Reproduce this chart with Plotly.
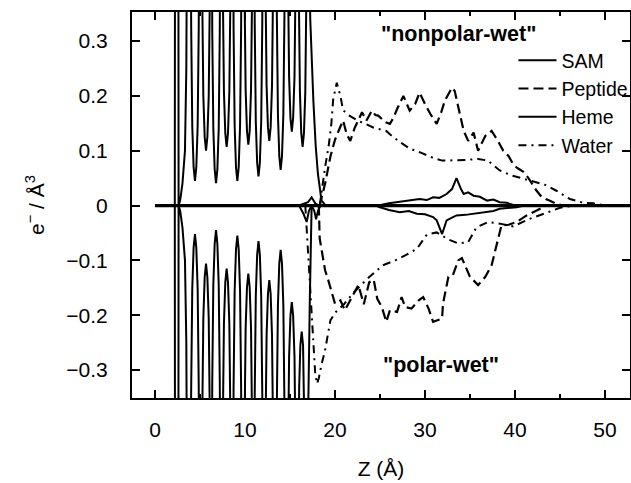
import plotly.graph_objects as go

# ---------------- data ----------------
# SAM, "nonpolar-wet" (positive branch)
sam_np_x = [0.0, 2.2, 2.26, 2.56, 2.62, 2.8, 3.05, 3.33, 3.48, 3.55, 3.75,
            4.02, 4.14, 4.29, 4.44, 4.59, 4.74, 4.86, 5.05,
            5.25, 5.37, 5.52, 5.67, 5.82, 5.97, 6.09, 6.22,
            6.36, 6.48, 6.63, 6.78, 6.93, 7.08, 7.20, 7.37,
            7.54, 7.66, 7.81, 7.96, 8.11, 8.26, 8.38, 8.55,
            8.73, 8.85, 9.00, 9.15, 9.30, 9.45, 9.57, 9.76,
            9.95, 10.07, 10.22, 10.37, 10.52, 10.67, 10.79, 10.93,
            11.08, 11.20, 11.35, 11.50, 11.65, 11.80, 11.92, 12.10,
            12.28, 12.40, 12.55, 12.70, 12.85, 13.00, 13.12, 13.33,
            13.54, 13.66, 13.81, 13.96, 14.11, 14.26, 14.38, 14.58,
            14.78, 14.90, 15.05, 15.20, 15.35, 15.50, 15.62, 15.80,
            15.98, 16.10, 16.25, 16.40, 16.55, 16.70, 16.82, 16.95,
            17.15, 17.25, 17.6, 17.85, 18.1, 18.5, 19.0]
sam_np_y = [0.0, 0.0, 1.5, 1.5, 0.0, 0.01, 0.04, 0.10, 0.25, 0.40, 1.2,
            0.325, 0.145, 0.07, 0.045, 0.07, 0.145, 0.325, 1.2,
            0.38, 0.20, 0.125, 0.10, 0.125, 0.20, 0.38, 1.2,
            0.321, 0.141, 0.066, 0.041, 0.066, 0.141, 0.321, 1.2,
            0.387, 0.207, 0.132, 0.107, 0.132, 0.207, 0.387, 1.2,
            0.325, 0.145, 0.07, 0.045, 0.07, 0.145, 0.325, 1.2,
            0.391, 0.211, 0.136, 0.111, 0.136, 0.211, 0.391, 1.2,
            0.333, 0.153, 0.078, 0.053, 0.078, 0.153, 0.333, 1.2,
            0.398, 0.218, 0.143, 0.118, 0.143, 0.218, 0.398, 1.2,
            0.345, 0.165, 0.09, 0.065, 0.09, 0.165, 0.345, 1.2,
            0.415, 0.235, 0.16, 0.135, 0.16, 0.235, 0.415, 1.2,
            0.387, 0.207, 0.132, 0.107, 0.132, 0.207, 0.387, 1.2,
            0.45, 0.34, 0.19, 0.11, 0.058, 0.009, 0.0]

# SAM, "polar-wet" (negative branch)
sam_p_x = [0.0, 2.2, 2.26, 2.56, 2.62, 2.8, 3.05, 3.33, 3.48, 3.55, 3.75,
           4.02, 4.14, 4.29, 4.44, 4.59, 4.74, 4.86, 5.05,
           5.25, 5.37, 5.52, 5.67, 5.82, 5.97, 6.09, 6.22,
           6.36, 6.48, 6.63, 6.78, 6.93, 7.08, 7.20, 7.37,
           7.54, 7.66, 7.81, 7.96, 8.11, 8.26, 8.38, 8.55,
           8.73, 8.85, 9.00, 9.15, 9.30, 9.45, 9.57, 9.76,
           9.95, 10.07, 10.22, 10.37, 10.52, 10.67, 10.79, 10.93,
           11.08, 11.20, 11.35, 11.50, 11.65, 11.80, 11.92, 12.10,
           12.28, 12.40, 12.55, 12.70, 12.85, 13.00, 13.12, 13.33,
           13.54, 13.66, 13.81, 13.96, 14.11, 14.26, 14.38, 14.58,
           14.78, 14.90, 15.05, 15.20, 15.35, 15.50, 15.62, 15.80,
           15.92, 16.02, 16.15, 16.30, 16.45, 16.58, 16.70, 16.85,
           16.98, 17.04, 17.2, 17.3, 17.4, 17.6]
sam_p_y = [0.0, 0.0, -1.5, -1.5, 0.0, -0.01, -0.04, -0.10, -0.25, -0.40, -1.2,
           -0.332, -0.152, -0.077, -0.052, -0.077, -0.152, -0.332, -1.2,
           -0.386, -0.206, -0.131, -0.106, -0.131, -0.206, -0.386, -1.2,
           -0.325, -0.145, -0.07, -0.045, -0.07, -0.145, -0.325, -1.2,
           -0.395, -0.215, -0.14, -0.115, -0.14, -0.215, -0.395, -1.2,
           -0.335, -0.155, -0.08, -0.055, -0.08, -0.155, -0.335, -1.2,
           -0.404, -0.224, -0.149, -0.124, -0.149, -0.224, -0.404, -1.2,
           -0.345, -0.165, -0.09, -0.065, -0.09, -0.165, -0.345, -1.2,
           -0.416, -0.236, -0.161, -0.136, -0.161, -0.236, -0.416, -1.2,
           -0.361, -0.181, -0.106, -0.081, -0.106, -0.181, -0.361, -1.2,
           -0.456, -0.276, -0.201, -0.176, -0.201, -0.276, -0.456, -1.2,
           -0.51, -0.33, -0.255, -0.23, -0.255, -0.33, -0.51, -1.2,
           -0.6, -0.355, -0.173, -0.082, -0.003, 0.0]

# Peptide
pep_np_x = [18.3, 18.9, 19.5, 20.0, 20.5, 20.9, 21.3, 21.7, 22.2, 22.6, 23.0, 23.5,
            24.1, 24.5, 24.8, 25.6, 26.1, 26.5, 26.9, 27.6, 28.0, 28.3, 28.9, 29.4,
            30.0, 30.6, 31.3, 31.8, 32.2, 33.0, 33.3, 33.9, 34.3, 34.8, 35.4, 35.9,
            36.7, 37.4, 38.1, 38.7, 39.3, 39.8, 40.3, 40.9, 41.5, 42.4, 43.0, 43.7,
            44.5, 45.3]
pep_np_y = [0.0, 0.04, 0.09, 0.12, 0.14, 0.155, 0.13, 0.118, 0.142, 0.155, 0.17, 0.155,
            0.173, 0.165, 0.164, 0.152, 0.149, 0.16, 0.176, 0.2, 0.185, 0.173, 0.185, 0.206,
            0.185, 0.167, 0.149, 0.17, 0.191, 0.215, 0.209, 0.164, 0.136, 0.118, 0.133, 0.1,
            0.127, 0.136, 0.118, 0.1, 0.09, 0.075, 0.068, 0.062, 0.05, 0.027, 0.015, 0.01,
            0.004, 0.0]
pep_p_x = [18.2, 18.3, 18.9, 19.2, 20.0, 20.6, 21.1, 21.9, 22.6, 23.2, 23.8, 24.3,
           24.7, 25.2, 25.7, 26.1, 26.9, 27.4, 27.8, 28.5, 29.3, 29.8, 30.4, 30.9,
           31.9, 32.0, 32.6, 33.1, 33.7, 34.1, 35.0, 35.9, 36.7, 37.4, 37.8, 38.5,
           39.3, 40.2, 41.3, 42.8, 43.5]
pep_p_y = [0.0, -0.06, -0.118, -0.133, -0.179, -0.173, -0.191, -0.167, -0.145, -0.18, -0.14, -0.135,
           -0.17, -0.185, -0.212, -0.191, -0.194, -0.167, -0.185, -0.188, -0.173, -0.167, -0.188, -0.212,
           -0.206, -0.179, -0.13, -0.127, -0.1, -0.096, -0.13, -0.145, -0.13, -0.109, -0.082, -0.036,
           -0.035, -0.03, -0.018, -0.006, 0.0]

# Heme
heme_np_x = [16.0, 16.5, 17.0, 17.4, 17.8, 18.2, 24.8, 26.0, 26.9, 28.3, 29.4, 30.2,
             30.9, 31.6, 32.4, 33.0, 33.5, 34.0, 34.3, 34.8, 35.4, 36.1, 36.9, 37.6,
             38.3, 39.1, 40.0]
heme_np_y = [0.0, 0.003, 0.006, 0.015, 0.004, 0.0, 0.0, 0.004, 0.006, 0.009, 0.012, 0.010,
             0.015, 0.014, 0.021, 0.030, 0.050, 0.030, 0.021, 0.024, 0.018, 0.016, 0.009, 0.011,
             0.006, 0.005, 0.0]
heme_p_x = [16.0, 16.5, 16.85, 17.1, 17.4, 17.7, 17.9, 18.1, 18.4, 24.5, 25.0, 26.0,
            27.2, 28.2, 29.1, 30.0, 30.9, 31.3, 31.9, 32.4, 33.0, 33.5, 34.5, 35.4,
            36.2, 36.9, 37.6, 38.3, 39.2, 40.2, 41.0]
heme_p_y = [0.0, -0.015, -0.03, -0.01, 0.0, -0.01, -0.025, -0.01, 0.0, 0.0, -0.003, -0.008,
            -0.012, -0.010, -0.015, -0.016, -0.021, -0.027, -0.052, -0.027, -0.022, -0.018, -0.017, -0.015,
            -0.014, -0.012, -0.010, -0.006, -0.005, -0.003, 0.0]

# Water
wat_np_x = [18.3, 18.5, 18.9, 19.3, 19.6, 19.8, 20.2, 20.6, 20.9, 21.5, 22.5, 23.5,
            24.3, 25.7, 26.1, 27.1, 28.3, 29.6, 30.9, 31.9, 33.2, 34.5, 35.9, 37.0,
            38.3, 39.6, 40.7, 42.0, 43.3, 44.6, 46.1, 47.6, 48.7, 50.0]
wat_np_y = [0.0, 0.027, 0.07, 0.109, 0.15, 0.194, 0.224, 0.2, 0.174, 0.165, 0.155, 0.148,
            0.142, 0.136, 0.13, 0.117, 0.104, 0.096, 0.087, 0.082, 0.082, 0.083, 0.085, 0.082,
            0.064, 0.055, 0.05, 0.044, 0.038, 0.027, 0.012, 0.005, 0.004, 0.0]
wat_p_x = [16.7, 16.9, 17.2, 17.5, 17.8, 18.0, 18.2, 18.5, 18.9, 19.2, 19.5, 20.1,
           21.0, 22.0, 23.5, 25.3, 26.7, 27.8, 29.1, 30.2, 31.3, 32.6, 33.7, 34.8,
           35.7, 37.0, 38.3, 39.8, 41.5, 43.7, 45.0, 46.5]
wat_p_y = [0.0, -0.055, -0.139, -0.224, -0.306, -0.325, -0.315, -0.29, -0.264, -0.236, -0.209, -0.194,
           -0.18, -0.16, -0.135, -0.109, -0.1, -0.091, -0.079, -0.053, -0.049, -0.062, -0.069, -0.067,
           -0.04, -0.03, -0.033, -0.038, -0.025, -0.012, -0.004, 0.0]

# zero density line
base_x = [0.0, 52.8]
base_y = [0.0, 0.0]

x_ticks = [0, 10, 20, 30, 40, 50]
y_ticks = [-0.3, -0.2, -0.1, 0, 0.1, 0.2, 0.3]

# ---------------- figure ----------------
FONT = "Liberation Sans"
fig = go.Figure()

def add(x, y, name, dash, width, show):
    fig.add_trace(go.Scatter(
        x=x, y=y, mode="lines", name=name, showlegend=show,
        line=dict(color="black", width=width, dash=dash)))

add(sam_np_x, sam_np_y, "SAM", "solid", 2, True)
add(pep_np_x, pep_np_y, "Peptide", "10px,5px", 2.2, True)
add(heme_np_x, heme_np_y, "Heme", "solid", 2, True)
add(wat_np_x, wat_np_y, "Water", "8px,5px,2px,5px", 2, True)
add(sam_p_x, sam_p_y, "SAM", "solid", 2, False)
add(pep_p_x, pep_p_y, "Peptide", "10px,5px", 2.2, False)
add(heme_p_x, heme_p_y, "Heme", "solid", 2, False)
add(wat_p_x, wat_p_y, "Water", "8px,5px,2px,5px", 2, False)
add(base_x, base_y, "base", "solid", 3.2, False)

fig.add_annotation(x=33.7, y=0.313, text='<b>"nonpolar-wet"</b>', showarrow=False,
                   font=dict(family=FONT, size=21.5, color="black"))
fig.add_annotation(x=31.8, y=-0.291, text='<b>"polar-wet"</b>', showarrow=False,
                   font=dict(family=FONT, size=21.5, color="black"))

fig.update_layout(
    width=631, height=483,
    margin=dict(l=132, r=1, t=12, b=85, autoexpand=False),
    paper_bgcolor="white", plot_bgcolor="white",
    font=dict(family=FONT, size=21, color="black"),
    showlegend=True,
    legend=dict(x=0.766, y=0.925, xanchor="left", yanchor="top",
                bgcolor="rgba(0,0,0,0)", borderwidth=0,
                font=dict(family=FONT, size=19.5, color="black"),
                itemwidth=38, traceorder="normal"),
)
fig.update_xaxes(
    range=[-2.556, 52.78], tickvals=x_ticks, ticks="inside", ticklen=8, tickwidth=1.5,
    tickcolor="black", showline=True, linecolor="black", linewidth=2, mirror="ticks",
    showgrid=False, zeroline=False, ticklabelstandoff=12, automargin=False,
    minor=dict(dtick=5, tick0=0, ticks="inside", ticklen=4, tickwidth=1.5, tickcolor="black"),
    title=dict(text="Z (Å)", standoff=21, font=dict(family=FONT, size=21)),
)
fig.update_yaxes(
    range=[-0.351, 0.353], tickvals=y_ticks, ticks="inside", ticklen=8, tickwidth=1.5,
    tickcolor="black", showline=True, linecolor="black", linewidth=2, mirror="ticks",
    showgrid=False, zeroline=False, ticklabelstandoff=18, automargin=False,
    title=dict(text="e<sup>−</sup> / Å<sup>3</sup>", standoff=16, font=dict(family=FONT, size=21)),
)

fig.write_html("out.html", config={"displayModeBar": False},
               post_script="document.body.style.margin='0';")
